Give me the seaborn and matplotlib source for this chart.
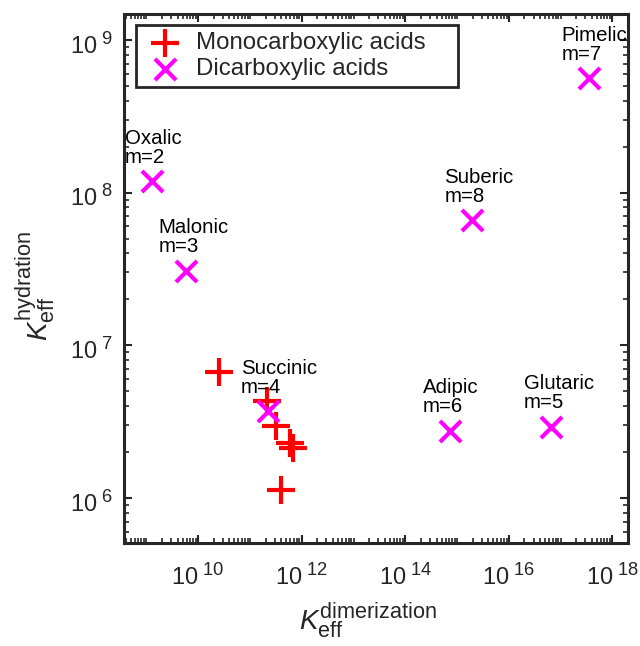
import numpy as np
import pandas as pd
import matplotlib
matplotlib.use("Agg")
import matplotlib.pyplot as plt
import matplotlib.ticker as mticker
import matplotlib.transforms as mtrans
import seaborn as sns

try:
    import matplotlib._mathtext as _mt
    _mt.SHRINK_FACTOR = 0.78
except Exception:
    pass

# ---- data ----
mono_dimer = [2.5e10, 2.1e11, 3.2e11, 5.9e11, 6.9e11, 3.9e11]
mono_hydr = [6.7e6, 4.3e6, 2.95e6, 2.3e6, 2.14e6, 1.12e6]

di_names = ["Oxalic", "Malonic", "Succinic", "Glutaric", "Adipic", "Pimelic", "Suberic"]
di_m = [2, 3, 4, 5, 6, 7, 8]
di_dimer = [1.26e9, 5.8e9, 2.25e11, 6.5e16, 7.2e14, 3.5e17, 1.9e15]
di_hydr = [1.19e8, 3.07e7, 3.7e6, 2.92e6, 2.76e6, 5.6e8, 6.6e7]

x_ticks = [1e10, 1e12, 1e14, 1e16, 1e18]
y_ticks = [1e6, 1e7, 1e8, 1e9]

sns.set_theme(style="white")
plt.rcParams['font.family'] = ['Liberation Sans', 'DejaVu Sans']
plt.rcParams['mathtext.fontset'] = 'custom'
plt.rcParams['mathtext.rm'] = 'Liberation Sans'
plt.rcParams['mathtext.it'] = 'Liberation Sans:italic'

fig = plt.figure(figsize=(6.4, 6.46), dpi=100)
ax = fig.add_axes([124/640, 1 - 543/646, 504/640, 529/646])

mono = pd.DataFrame({"x": mono_dimer, "y": mono_hydr})
di = pd.DataFrame({"x": di_dimer, "y": di_hydr, "name": di_names, "m": di_m})

sns.scatterplot(data=mono, x="x", y="y", marker="+", s=420, color="#ff0000",
                linewidth=3.0, label="Monocarboxylic acids", ax=ax, zorder=3)
sns.scatterplot(data=di, x="x", y="y", marker="x", s=230, color="#ff00ff",
                linewidth=3.0, label="Dicarboxylic acids", ax=ax, zorder=4)

ax.set_xscale("log")
ax.set_yscale("log")
ax.set_xlim(10**8.567, 10**18.30)
ax.set_ylim(10**5.705, 10**9.17)

for _, r in di.iterrows():
    ax.annotate(f"{r['name']}\nm={r['m']}", (r["x"], r["y"]), xytext=(-19.5, 10.5),
                textcoords="offset points", ha="left", va="bottom",
                fontsize=14.7, linespacing=1.0, color="black", zorder=5)


def pow_fmt(v, pos):
    e = int(round(np.log10(v)))
    return r"$\mathdefault{10}^{\ \mathdefault{%d}}$" % e


ax.xaxis.set_major_locator(mticker.FixedLocator(x_ticks))
ax.yaxis.set_major_locator(mticker.FixedLocator(y_ticks))
ax.xaxis.set_minor_locator(mticker.LogLocator(base=10, subs=np.arange(1, 10), numticks=100))
ax.yaxis.set_minor_locator(mticker.LogLocator(base=10, subs=np.arange(2, 10), numticks=100))
ax.xaxis.set_major_formatter(mticker.FuncFormatter(pow_fmt))
ax.yaxis.set_major_formatter(mticker.FuncFormatter(pow_fmt))
ax.xaxis.set_minor_formatter(mticker.NullFormatter())
ax.yaxis.set_minor_formatter(mticker.NullFormatter())

ax.tick_params(which="both", direction="in", top=True, right=True, bottom=True, left=True,
               colors="#262626", labelcolor="#262626", labelsize=17)
ax.tick_params(which="major", length=6, width=1.5)
ax.tick_params(axis="x", which="major", pad=15)
ax.tick_params(axis="y", which="major", pad=8)
ax.tick_params(which="minor", length=3.5, width=1.2)

# nudge y tick labels slightly down
off = mtrans.ScaledTranslation(0, -3/100, fig.dpi_scale_trans)
for lab in ax.get_yticklabels():
    lab.set_transform(lab.get_transform() + off)

for s in ax.spines.values():
    s.set_visible(True)
    s.set_linewidth(2.2)
    s.set_color("#262626")

ax.set_xlabel(r"$\mathit{K}_{\mathrm{eff}}^{\mathrm{dimerization}}$", fontsize=20, color="#262626")
ax.set_ylabel(r"$\mathit{K}_{\mathrm{eff}}^{\mathrm{hydration}}$", fontsize=20, color="#262626")
ax.xaxis.set_label_coords(0.483, -0.108)
ax.yaxis.set_label_coords(-0.131, 0.486)

leg = ax.legend(loc="upper left", bbox_to_anchor=(0.0238, 0.860, 0.639, 0.119), mode="expand",
                fontsize=17.25, frameon=True, fancybox=False, edgecolor="#262626", framealpha=1,
                borderpad=0.3, handletextpad=0.4, labelspacing=0.15, handlelength=1.8,
                borderaxespad=0)
leg.get_frame().set_linewidth(2.0)

fig.savefig("out.png", dpi=100)
